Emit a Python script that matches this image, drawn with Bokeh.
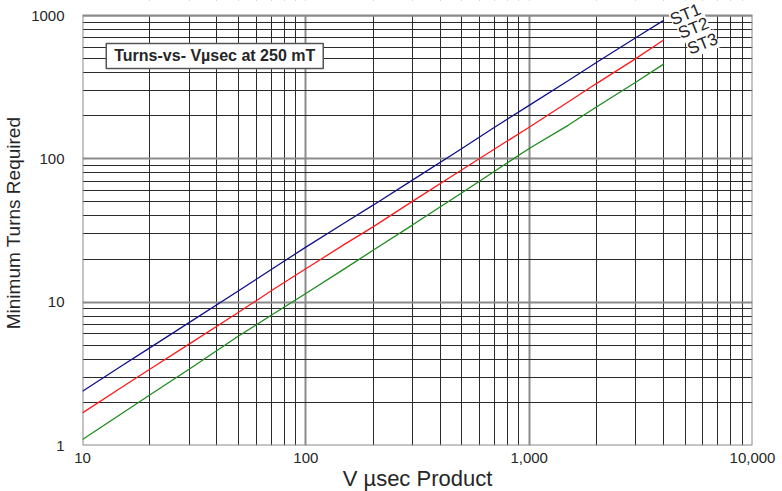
from bokeh.plotting import figure
from bokeh.models import FixedTicker, Label, Range1d
from bokeh.embed import file_html
from bokeh.resources import INLINE

# Data
vusec = [10, 15, 20, 30, 50, 70, 100, 150, 200, 300, 500, 700, 1000, 1500, 2000, 3000, 4000]
st1 = [2.39, 3.6, 4.8, 7.2, 12.0, 16.9, 24.2, 36, 47.5, 71, 118, 166, 236, 352, 470, 700, 925]
st2 = [1.69, 2.55, 3.4, 5.1, 8.5, 12.0, 17.1, 25.5, 33.5, 50.5, 84, 117, 166, 250, 335, 500, 675]
st3 = [1.10, 1.67, 2.25, 3.4, 5.8, 8.1, 11.5, 17.2, 23, 34.5, 58, 82, 118, 172, 230, 342, 458]
series_names = ["ST1", "ST2", "ST3"]
series_colors = ["#10108a", "#ff1a1a", "#1e8c1e"]

x_ticks = [10, 100, 1000, 10000]
x_tick_labels = ["10", "100", "1,000", "10,000"]
y_ticks = [1, 10, 100, 1000]
y_tick_labels = ["1", "10", "100", "1000"]

FONT = "Liberation Sans"
TXT = "#262626"
BORDER = "#8a8a8a"

x_lo, x_hi = x_ticks[0], x_ticks[-1]
y_lo, y_hi = y_ticks[0], y_ticks[-1]
# the frame reaches 15px above the top of the grid so the curve labels can sit there
y_top = y_hi * 10 ** (15 / 143.33)

p = figure(width=782, height=491, x_axis_type="log", y_axis_type="log",
           x_range=Range1d(x_lo, x_hi), y_range=Range1d(y_lo, y_top),
           output_backend="svg", toolbar_location=None,
           min_border_left=82, min_border_right=30, min_border_top=0, min_border_bottom=46)
p.frame_width = 670
p.frame_height = 445

x_minor = [m * d for d in [10, 100, 1000] for m in range(2, 10)]
y_minor = [m * d for d in [1, 10, 100] for m in range(2, 10)]
p.xaxis.ticker = FixedTicker(ticks=x_ticks, minor_ticks=x_minor)
p.yaxis.ticker = FixedTicker(ticks=y_ticks, minor_ticks=y_minor)
p.xaxis.major_label_overrides = {t: l for t, l in zip(x_ticks, x_tick_labels)}
p.yaxis.major_label_overrides = {t: l for t, l in zip(y_ticks, y_tick_labels)}

for g in (p.xgrid, p.ygrid):
    g.grid_line_color = BORDER
    g.grid_line_width = 2
    g.minor_grid_line_color = "#2a2a2a"
    g.minor_grid_line_width = 1

for ax in (p.xaxis, p.yaxis):
    ax.axis_line_color = None
    ax.major_tick_line_color = None
    ax.minor_tick_line_color = None
    ax.major_label_text_font = FONT
    ax.major_label_text_font_size = "15px"
    ax.major_label_text_color = TXT
    ax.axis_label_text_font = FONT
    ax.axis_label_text_font_style = "normal"
    ax.axis_label_text_color = TXT

p.xaxis.axis_label = "V µsec Product"
p.xaxis.axis_label_text_font_size = "22px"
p.xaxis.major_label_standoff = 1
p.xaxis.axis_label_standoff = 0
p.yaxis.axis_label = "Minimum Turns Required"
p.yaxis.axis_label_text_font_size = "19px"
p.yaxis.major_label_standoff = 12
p.yaxis.axis_label_standoff = 4

p.outline_line_color = None

# white strip above the grid, then the plot border
p.quad(left=[x_lo], right=[x_hi], bottom=[y_hi], top=[y_top], fill_color="white", line_color=None)
p.quad(left=[x_lo], right=[x_hi], bottom=[y_lo], top=[y_hi], fill_color=None,
       line_color=BORDER, line_width=2)

for ys, c in zip([st1, st2, st3], series_colors):
    p.line(vusec, ys, line_color=c, line_width=1.3)

# curve labels
label_pos = [(5012, 1016), (5445, 815), (5980, 634)]
for name, (lx, ly) in zip(series_names, label_pos):
    p.add_layout(Label(x=lx, y=ly, text=name, angle=0.38, text_align="center",
                       text_baseline="middle", text_font=FONT, text_font_size="17px",
                       text_color=TXT, background_fill_color="white"))

p.add_layout(Label(x=39.1, y=522, text="Turns-vs- Vµsec at 250 mT", text_align="center",
                   text_baseline="middle", text_font=FONT, text_font_size="16px",
                   text_font_style="bold", text_color=TXT, background_fill_color="white",
                   border_line_color="#555555", border_line_width=1.5, padding=(8, 4)))

open("out.html", "w").write(file_html(p, INLINE))
